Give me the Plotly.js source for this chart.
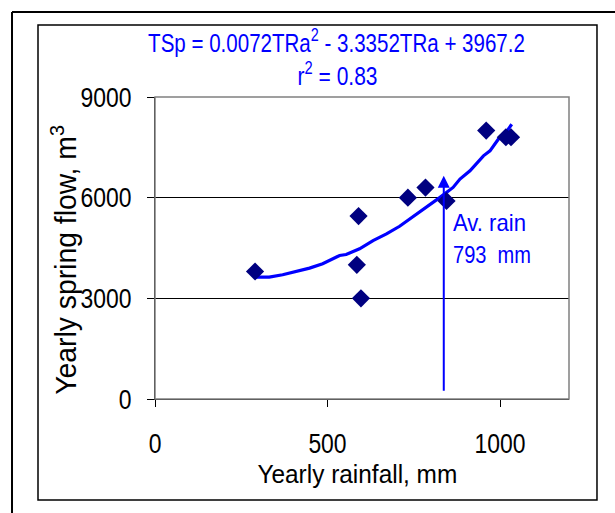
<!DOCTYPE html>
<html>
<head>
<meta charset="utf-8">
<script src="https://cdn.plot.ly/plotly-3.0.1.min.js"></script>
<style>html,body{margin:0;padding:0;background:#fff;}#chart{width:615px;height:513px;}</style>
</head>
<body>
<div id="chart"></div>
<script>
// Observed data: yearly rainfall (mm) vs yearly spring flow (m3)
const rainfall = [290, 590, 585, 597, 733, 784, 845, 960, 1017, 1032];
const springFlow = [3800, 5450, 4000, 3000, 6000, 6300, 5900, 8000, 7800, 7800];

// Polynomial trend line
const trendRain = [290, 331, 370, 409, 448, 486, 535, 554, 593, 632, 671, 709, 748, 777, 826, 864, 884, 913, 952, 971, 995, 1010, 1034];
const trendFlow = [3633, 3633, 3703, 3802, 3901, 4029, 4277, 4307, 4475, 4722, 4920, 5148, 5435, 5633, 6009, 6306, 6554, 6801, 7247, 7395, 7742, 7841, 8187];

// Average rain marker (arrow)
const avRainX = [837];
const avArrowY = [200, 6650];
const avLabelY = [5250, 4290];

const xTicks = [0, 500, 1000];
const yTicks = [0, 3000, 6000, 9000];

const FONT = "'Liberation Sans', Arial, sans-serif";
const BLUE = '#0000FF';

const traces = [
  {
    x: trendRain, y: trendFlow, type: 'scatter', mode: 'lines',
    line: {color: BLUE, width: 3.2}, hoverinfo: 'skip'
  },
  {
    x: rainfall, y: springFlow, type: 'scatter', mode: 'markers',
    marker: {symbol: 'diamond', color: '#000080', size: 14}
  }
];

const layout = {
  width: 615, height: 513,
  margin: {l: 155, r: 46, t: 97, b: 114},
  paper_bgcolor: '#ffffff', plot_bgcolor: '#ffffff',
  showlegend: false,
  font: {family: FONT, color: '#000'},
  xaxis: {
    range: [0, 1200], tickvals: xTicks, ticktext: xTicks.map(String),
    showgrid: false, zeroline: false, showline: true, linecolor: '#000', linewidth: 1,
    ticks: 'outside', ticklen: 7, tickcolor: '#000',
    tickfont: {family: FONT, size: 28, color: '#000'},
    ticklabelstandoff: 12
  },
  yaxis: {
    range: [0, 9000], tickvals: yTicks, ticktext: yTicks.map(String),
    showgrid: true, gridcolor: '#000', gridwidth: 1, zeroline: false,
    showline: true, linecolor: '#000', linewidth: 1,
    ticks: 'outside', ticklen: 7, tickcolor: '#000',
    tickfont: {family: FONT, size: 28, color: '#000'},
    ticklabelstandoff: 10
  },
  shapes: [
    {type: 'rect', xref: 'paper', yref: 'paper', x0: 0, x1: 1, y0: 0, y1: 1,
     line: {color: '#808080', width: 1.5}, layer: 'above'},
    {type: 'rect', xref: 'paper', yref: 'paper', x0: -0.2826, x1: 1.0676, y0: -0.3344, y1: 1.2384,
     line: {color: '#000', width: 1.5}},
    {type: 'line', xref: 'paper', yref: 'paper', x0: -0.3454, x1: 1.15, y0: 1.2815, y1: 1.2815,
     line: {color: '#000', width: 2}},
    {type: 'line', xref: 'paper', yref: 'paper', x0: -0.3454, x1: -0.3454, y0: 1.2815, y1: -0.42,
     line: {color: '#000', width: 2}}
  ],
  annotations: [
    {xref: 'paper', yref: 'paper', x: 0.4384, y: 1.185, xanchor: 'center', yanchor: 'middle',
     text: 'TSp = 0.0072TRa<sup>2</sup> - 3.3352TRa + 3967.2', showarrow: false,
     font: {family: FONT, size: 26, color: BLUE}},
    {xref: 'paper', yref: 'paper', x: 0.442, y: 1.073, xanchor: 'center', yanchor: 'middle',
     text: 'r<sup>2</sup> = 0.83', showarrow: false,
     font: {family: FONT, size: 26, color: BLUE}},
    {xref: 'paper', yref: 'paper', x: -0.22, y: 0.46, xanchor: 'center', yanchor: 'middle',
     textangle: -90, text: 'Yearly spring flow, m<sup>3</sup>', showarrow: false,
     font: {family: FONT, size: 29, color: '#000'}},
    {xref: 'paper', yref: 'paper', x: 0.4903, y: -0.248, xanchor: 'center', yanchor: 'middle',
     text: 'Yearly rainfall, mm', showarrow: false,
     font: {family: FONT, size: 25, color: '#000'}},
    {xref: 'x', yref: 'y', axref: 'x', ayref: 'y', x: avRainX[0], y: avArrowY[1],
     ax: avRainX[0], ay: avArrowY[0], text: '', showarrow: true,
     arrowhead: 2, arrowsize: 1.2, arrowwidth: 2, arrowcolor: BLUE, standoff: 0, startstandoff: 0},
    {xref: 'x', yref: 'y', x: avRainX[0] + 20, y: avLabelY[0], xanchor: 'left', yanchor: 'middle',
     text: 'Av. rain', showarrow: false, font: {family: FONT, size: 23, color: BLUE}},
    {xref: 'x', yref: 'y', x: avRainX[0] + 20, y: avLabelY[1], xanchor: 'left', yanchor: 'middle',
     text: '793&nbsp;&nbsp;mm', showarrow: false, font: {family: FONT, size: 23, color: BLUE}}
  ]
};

// target rendered widths (px) for condensed look of the original
const annWidths = {0: 377, 1: 80, 2: 270, 3: 200, 5: 73, 6: 78};
const annOrigin = {0: 'center', 1: 'center', 2: 'center', 3: 'center', 5: 'left', 6: 'left'};

function squeeze(el, s, origin) {
  const bb = el.getBBox();
  if (!bb.width) return;
  const cx = origin === 'left' ? bb.x : origin === 'right' ? bb.x + bb.width : bb.x + bb.width / 2;
  const prev = el.getAttribute('transform') || '';
  el.setAttribute('transform', prev + ' translate(' + cx + ',0) scale(' + s + ',1) translate(' + (-cx) + ',0)');
}

Plotly.newPlot('chart', traces, layout, {staticPlot: true, displayModeBar: false}).then(function (gd) {
  const anns = gd.querySelectorAll('.annotation');
  anns.forEach(function (g, i) {
    if (!(i in annWidths)) return;
    const t = g.querySelector('text.annotation-text');
    if (!t) return;
    const w = t.getBBox().width;
    if (w) squeeze(t, annWidths[i] / w, annOrigin[i]);
  });
  const yt = Array.from(gd.querySelectorAll('.ytick text'));
  let s = 0.82;
  const ref = yt.find(function (t) { return t.textContent === '9000'; });
  if (ref) { const w = ref.getBBox().width; if (w) s = 51 / w; }
  yt.forEach(function (t) { squeeze(t, s, 'right'); });
  gd.querySelectorAll('.xtick text').forEach(function (t) { squeeze(t, s, 'center'); });
});
</script>
</body>
</html>
